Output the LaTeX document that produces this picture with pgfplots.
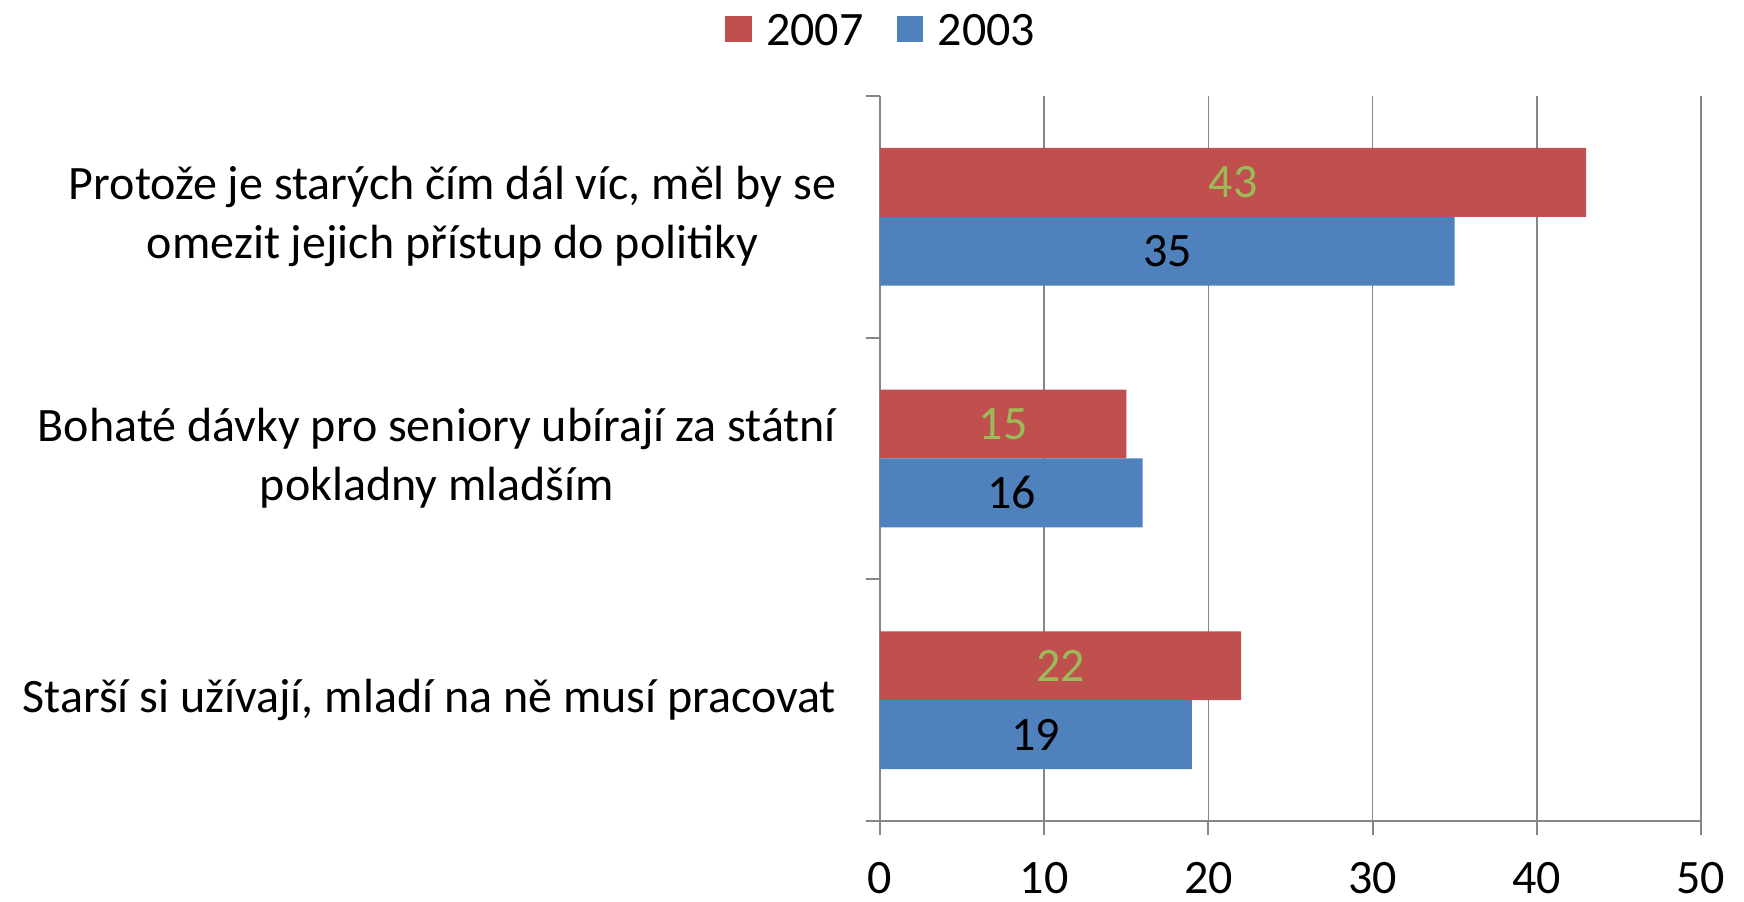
\documentclass[border=0pt]{standalone}
\usepackage{fontspec}
\setmainfont{Carlito}
\usepackage{pgfplots}
\usepackage{pgfplotstable}
\pgfplotsset{compat=1.18}
\usetikzlibrary{calc}
\definecolor{cRed}{HTML}{C0504D}
\definecolor{cBlue}{HTML}{4F81BD}
\definecolor{cGreen}{HTML}{9BBB59}
\definecolor{cAxis}{HTML}{868686}

% y: 0 = bottom category
\pgfplotstableread{
y val
0 22
1 15
2 43
}\yseven
\pgfplotstableread{
y val
0 19
1 16
2 35
}\ythree

\begin{document}
\begin{tikzpicture}
\begin{axis}[
    name=ax,
    scale only axis,
    width=205.25pt, height=181.25pt,
    xmin=0, xmax=50,
    ymin=-0.5, ymax=2.5,
    xtick={0,10,...,50},
    ytick={0,1,2},
    yticklabels={{Starší si užívají, mladí na ně musí pracovat},
                 {Bohaté dávky pro seniory ubírají za státní\\pokladny mladším},
                 {Protože je starých čím dál víc, měl by se\\omezit jejich přístup do politiky}},
    yticklabel style={align=center, font=\fontsize{12}{14.7}\selectfont, xshift=-3.85pt},
    xticklabel style={font=\fontsize{12}{14.7}\selectfont, inner sep=0pt, yshift=-6.5pt},
    major y tick style={draw=none},
    minor ytick={-0.5,0.5,1.5,2.5},
    minor y tick style={draw=cAxis, line width=0.5pt},
    tick align=outside,
    major tick length=3.6pt,
    minor tick length=3.6pt,
    tick style={cAxis, line width=0.5pt},
    axis x line*=bottom,
    axis y line*=left,
    axis line style={cAxis, line width=0.55pt, -},
    xmajorgrids,
    major grid style={cAxis, line width=0.4pt},
    /pgf/number format/assume math mode=true,
    legend columns=2,
    legend style={draw=none, fill=none, at={(rel axis cs:0.005,1.0876)}, anchor=center,
                  font=\fontsize{12}{14.7}\selectfont,
                  /tikz/every odd column/.append style={column sep=1.6pt},
                  /tikz/every even column/.append style={column sep=6.3pt}},
    legend image code/.code={\fill[#1] (0pt,-2.5pt) rectangle (6.7pt,4.2pt);},
    clip=false,
]
\addplot[xbar, bar width=0.285, bar shift=0.1425, fill=cRed, draw=none]
    table[x=val, y=y] {\yseven};
\addplot[xbar, bar width=0.285, bar shift=-0.1425, fill=cBlue, draw=none]
    table[x=val, y=y] {\ythree};
\legend{2007, 2003}

% value labels in the middle of each bar
\addplot[draw=none, mark=none, forget plot, nodes near coords, point meta=rawx,
    x filter/.expression={x/2}, y filter/.expression={y+0.1425},
    every node near coord/.append style={anchor=center, text=cGreen,
        font=\fontsize{12}{14.7}\selectfont}]
    table[x=val, y=y] {\yseven};
\addplot[draw=none, mark=none, forget plot, nodes near coords, point meta=rawx,
    x filter/.expression={x/2}, y filter/.expression={y-0.1425},
    every node near coord/.append style={anchor=center, text=black,
        font=\fontsize{12}{14.7}\selectfont}]
    table[x=val, y=y] {\ythree};
\end{axis}
\pgfresetboundingbox
\path ($(ax.south west)+(-220pt,-20.25pt)$) rectangle ($(ax.north east)+(10.75pt,24pt)$);
\end{tikzpicture}
\end{document}
